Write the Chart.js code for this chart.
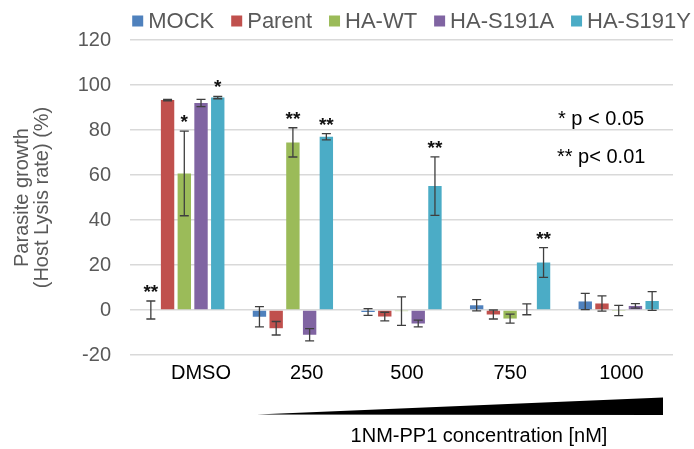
<!DOCTYPE html>
<html>
<head>
<meta charset="utf-8">
<script src="https://cdn.jsdelivr.net/npm/chart.js@4.4.1/dist/chart.umd.min.js"></script>
<style>
  html, body { margin: 0; padding: 0; background: #fff; }
  #wrap { width: 694px; height: 449px; }
</style>
</head>
<body>
<div id="wrap"><canvas id="chart"></canvas></div>
<script>
/* ---------- DATA ---------- */
const categories = ["DMSO", "250", "500", "750", "1000"];
const seriesNames = ["MOCK", "Parent", "HA-WT", "HA-S191A", "HA-S191Y"];
const seriesColors = ["#4f81bd", "#c0504d", "#9bbb59", "#8064a2", "#4bacc6"];

const mockValues    = [0, -3.0, -0.9, 2.1, 3.8];
const mockErrors    = [4.0, 4.5, 1.5, 2.5, 3.6];
const parentValues  = [93.3, -8.1, -2.9, -2.0, 2.9];
const parentErrors  = [0.3, 3.0, 1.9, 2.0, 3.4];
const wtValues      = [60.7, 74.5, -0.5, -3.8, -0.2];
const wtErrors      = [18.8, 6.5, 6.3, 2.0, 2.3];
const s191aValues   = [92.0, -11.0, -6.0, 0.3, 1.8];
const s191aErrors   = [1.6, 2.7, 1.5, 2.4, 1.0];
const s191yValues   = [94.4, 77.0, 55.1, 21.1, 4.0];
const s191yErrors   = [0.5, 1.4, 13.0, 6.6, 4.2];

const mockStars   = ["**", "", "", "", ""];
const parentStars = ["", "", "", "", ""];
const wtStars     = ["*", "**", "", "", ""];
const s191aStars  = ["", "", "", "", ""];
const s191yStars  = ["*", "**", "**", "**", ""];

const yTicks = [-20, 0, 20, 40, 60, 80, 100, 120];
const xTitle = "1NM-PP1 concentration [nM]";
const yTitle = ["Parasite growth", "(Host Lysis rate) (%)"];
const sigNotes = ["* p < 0.05", "** p< 0.01"];

const FONT = "'Liberation Sans', Arial, sans-serif";

/* ---------- DATASETS ---------- */
const allValues = [mockValues, parentValues, wtValues, s191aValues, s191yValues];
const allErrors = [mockErrors, parentErrors, wtErrors, s191aErrors, s191yErrors];
const allStars  = [mockStars, parentStars, wtStars, s191aStars, s191yStars];

const datasets = seriesNames.map((name, i) => ({
  label: name,
  data: allValues[i],
  errors: allErrors[i],
  stars: allStars[i],
  backgroundColor: seriesColors[i],
  borderWidth: 0,
  categoryPercentage: 0.77,
  barPercentage: 0.8
}));

/* ---------- PLUGINS ---------- */
const errorBars = {
  id: "errorBars",
  afterDatasetsDraw(chart) {
    const ctx = chart.ctx;
    const y = chart.scales.y;
    ctx.save();
    chart.data.datasets.forEach((ds, i) => {
      const meta = chart.getDatasetMeta(i);
      meta.data.forEach((bar, j) => {
        const v = ds.data[j], e = ds.errors[j];
        const top = y.getPixelForValue(v + e);
        const bot = y.getPixelForValue(v - e);
        ctx.strokeStyle = "#3f3f3f";
        ctx.lineWidth = 1.3;
        ctx.beginPath();
        ctx.moveTo(bar.x, top); ctx.lineTo(bar.x, bot);
        ctx.moveTo(bar.x - 4.5, top); ctx.lineTo(bar.x + 4.5, top);
        ctx.moveTo(bar.x - 4.5, bot); ctx.lineTo(bar.x + 4.5, bot);
        ctx.stroke();

        const s = ds.stars[j];
        if (s) {
          ctx.fillStyle = "#111";
          ctx.font = "bold 19px " + FONT;
          ctx.textAlign = "center";
          ctx.textBaseline = "alphabetic";
          ctx.fillText(s, bar.x, top - 3);
        }
      });
    });
    ctx.restore();
  }
};

const extras = {
  id: "extras",
  afterDraw(chart) {
    const ctx = chart.ctx;
    ctx.save();

    // legend, right aligned
    ctx.font = "22px " + FONT;
    ctx.textBaseline = "middle";
    ctx.textAlign = "left";
    const box = 11, gap = 5, itemGap = 17, ly = 21;
    const widths = chart.data.datasets.map(d => ctx.measureText(d.label).width);
    let total = widths.reduce((a, w) => a + w + box + gap, 0) + itemGap * (widths.length - 1);
    let x = 691 - total;
    chart.data.datasets.forEach((d, i) => {
      ctx.fillStyle = d.backgroundColor;
      ctx.fillRect(x, ly - box / 2, box, box);
      ctx.fillStyle = "#595959";
      ctx.fillText(d.label, x + box + gap, ly + 1);
      x += box + gap + widths[i] + itemGap;
    });

    // significance notes
    ctx.fillStyle = "#000";
    ctx.font = "20px " + FONT;
    ctx.fillText(sigNotes[0], 558, 119);
    ctx.fillText(sigNotes[1], 557, 157);

    // concentration wedge
    ctx.beginPath();
    ctx.moveTo(257, 414.5);
    ctx.lineTo(663, 397.5);
    ctx.lineTo(663, 415);
    ctx.closePath();
    ctx.fill();

    // x title
    ctx.textAlign = "center";
    ctx.fillText(xTitle, 479, 436);

    ctx.restore();
  }
};

/* ---------- CHART ---------- */
const labelPad = [6, 5, 2, 0, 1];

new Chart(document.getElementById("chart"), {
  type: "bar",
  data: { labels: categories, datasets },
  options: {
    responsive: true,
    maintainAspectRatio: false,
    animation: false,
    layout: { padding: { top: 40, right: 21, bottom: 0, left: 12 } },
    plugins: {
      legend: { display: false },
      tooltip: { enabled: false }
    },
    scales: {
      x: {
        grid: { display: false, drawTicks: false },
        border: { display: false },
        ticks: {
          color: "#000",
          font: { family: FONT, size: 20 },
          padding: 6,
          maxRotation: 0,
          callback: function (v, i) { return " ".repeat(labelPad[i]) + this.getLabelForValue(v); }
        },
        afterFit: s => { s.height = 94; }
      },
      y: {
        min: yTicks[0],
        max: yTicks[yTicks.length - 1],
        afterBuildTicks: s => { s.ticks = yTicks.map(v => ({ value: v })); },
        grid: { color: "#d9d9d9", lineWidth: 1.5, drawTicks: false },
        border: { display: false },
        ticks: {
          color: "#595959",
          font: { family: FONT, size: 20 },
          padding: 19
        },
        title: {
          display: true,
          text: yTitle,
          color: "#595959",
          font: { family: FONT, size: 20, lineHeight: 1.0 },
          padding: 0
        },
        afterFit: s => { s.width = 118; }
      }
    }
  },
  plugins: [errorBars, extras]
});
</script>
</body>
</html>
